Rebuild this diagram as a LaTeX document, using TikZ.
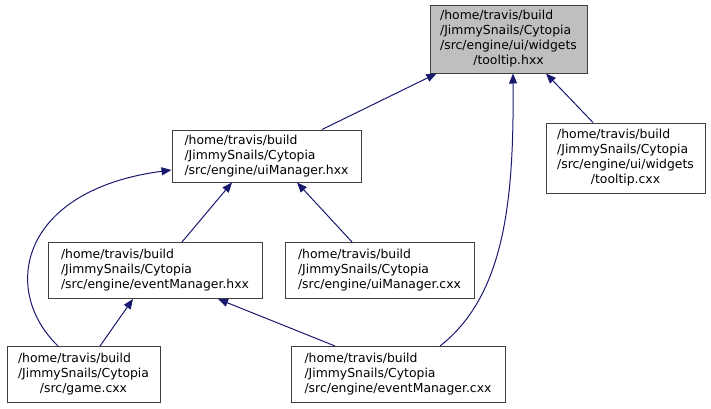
\documentclass[tikz,border=0pt]{standalone}
\usepackage{fontspec}
\setmainfont{DejaVu Sans}
\usepackage{tikz}
\usetikzlibrary{arrows.meta, positioning, calc}
\definecolor{edgeblue}{RGB}{25, 25, 112}
\definecolor{boxgray}{RGB}{64, 64, 64}
\definecolor{hlgray}{RGB}{191, 191, 191}
% file label: left aligned lines, last line centred
\newcommand{\incfile}[2]{\begin{tabular}{@{}l@{}}#1\\\multicolumn{1}{@{}c@{}}{#2}\end{tabular}}

\begin{document}
\begin{tikzpicture}[x=1pt, y=-1pt,
    filebox/.style={draw=boxgray, line width=1pt, fill=white, inner sep=0pt,
      font=\fontsize{12.4}{15}\selectfont, text=black},
    inc/.style={draw=edgeblue, line width=1pt, -{Triangle[length=10pt, width=8pt]}, edgeblue}]
  \useasboundingbox (0,0) rectangle (711,408);

  \node[filebox, fill=hlgray, minimum width=157pt, minimum height=68pt] (tiphxx) at (508.5,39)
    {\incfile{/home/travis/build\\/JimmySnails/Cytopia\\/src/engine/ui/widgets}{/tooltip.hxx}};
  \node[filebox, minimum width=189pt, minimum height=52pt] (uimgrhxx) at (266.5,156)
    {\incfile{/home/travis/build\\/JimmySnails/Cytopia}{/src/engine/uiManager.hxx}};
  \node[filebox, minimum width=159pt, minimum height=70pt] (tipcxx) at (625.5,158)
    {\incfile{/home/travis/build\\/JimmySnails/Cytopia\\/src/engine/ui/widgets}{/tooltip.cxx}};
  \node[filebox, minimum width=214pt, minimum height=56pt] (evmgrhxx) at (155,270.5)
    {\incfile{/home/travis/build\\/JimmySnails/Cytopia}{/src/engine/eventManager.hxx}};
  \node[filebox, minimum width=189pt, minimum height=56pt] (uimgrcxx) at (379.5,270.5)
    {\incfile{/home/travis/build\\/JimmySnails/Cytopia}{/src/engine/uiManager.cxx}};
  \node[filebox, minimum width=153pt, minimum height=56pt] (gamecxx) at (83.5,374.5)
    {\incfile{/home/travis/build\\/JimmySnails/Cytopia}{/src/game.cxx}};
  \node[filebox, minimum width=214pt, minimum height=56pt] (evmgrcxx) at (398,374.5)
    {\incfile{/home/travis/build\\/JimmySnails/Cytopia}{/src/engine/eventManager.cxx}};

  % include edges
  \draw[inc] ([xshift=55.5pt]uimgrhxx.north) -- ([xshift=-72pt]tiphxx.south);
  \draw[inc] ([xshift=-32.5pt]tipcxx.north) -- ([xshift=37.5pt]tiphxx.south);
  \draw[inc] ([xshift=42pt]evmgrcxx.north) .. controls (505,295) and (514,200) .. ([xshift=4.5pt]tiphxx.south);
  \draw[inc] ([xshift=27pt]evmgrhxx.north) -- ([xshift=-34.5pt]uimgrhxx.south);
  \draw[inc] ([xshift=-27.5pt]uimgrcxx.north) -- ([xshift=30.5pt]uimgrhxx.south);
  \draw[inc] ([xshift=-25.5pt]gamecxx.north) .. controls (0,290) and (20,190) .. ([yshift=-14pt]uimgrhxx.west);
  \draw[inc] ([xshift=16.5pt]gamecxx.north) -- ([xshift=-22pt]evmgrhxx.south);
  \draw[inc] ([xshift=-63pt]evmgrcxx.north) -- ([xshift=63pt]evmgrhxx.south);
\end{tikzpicture}
\end{document}
